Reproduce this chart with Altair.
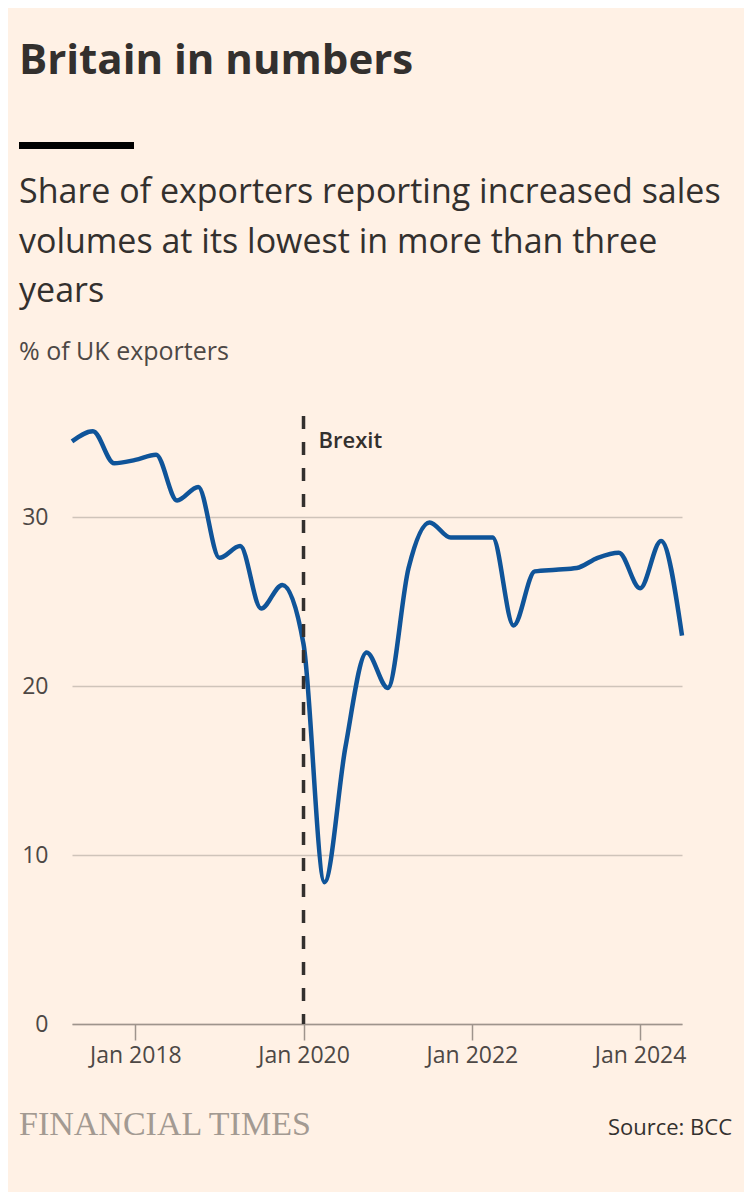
import pandas as pd
import altair as alt

# quarterly readings, % of UK exporters reporting increased sales volumes
quarters = [
    "2017/04/01", "2017/07/01", "2017/10/01",
    "2018/01/01", "2018/04/01", "2018/07/01", "2018/10/01",
    "2019/01/01", "2019/04/01", "2019/07/01", "2019/10/01",
    "2020/01/01", "2020/04/01", "2020/07/01", "2020/10/01",
    "2021/01/01", "2021/04/01", "2021/07/01", "2021/10/01",
    "2022/01/01", "2022/04/01", "2022/07/01", "2022/10/01",
    "2023/01/01", "2023/04/01", "2023/07/01", "2023/10/01",
    "2024/01/01", "2024/04/01", "2024/07/01",
]
share = [
    34.5, 35.1, 33.2,
    33.4, 33.7, 31.0, 31.8,
    27.6, 28.3, 24.6, 26.0,
    22.5, 8.4, 16.4, 22.0,
    19.9, 27.0, 29.7, 28.8,
    28.8, 28.8, 23.6, 26.8,
    26.9, 27.0, 27.6, 27.9,
    25.8, 28.6, 23.0,
]
brexit_date = ["2020/01/01"]
brexit_label = ["Brexit"]
y_ticks = [0, 10, 20, 30]
x_ticks = [alt.DateTime(year=y, month=1, date=1) for y in (2018, 2020, 2022, 2024)]

title_text = "Britain in numbers"
subtitle_lines = [
    "Share of exporters reporting increased sales",
    "volumes at its lowest in more than three",
    "years",
]
unit_text = "% of UK exporters"
source_text = "Source: BCC"
brand_text = "FINANCIAL TIMES"

df = pd.DataFrame({"date": quarters, "share": share})
brexit_df = pd.DataFrame({"date": brexit_date, "label": brexit_label})

SANS = "Open Sans"
INK = "#33302E"
BG = "#FFF1E5"
W, H = 610, 608

x_enc = alt.X(
    "date:T",
    scale=alt.Scale(domain=[quarters[0], quarters[-1]]),
    axis=alt.Axis(
        values=x_ticks, format="%b %Y", title=None, grid=False,
        tickSize=16, tickColor="#9e948c", tickWidth=1.5,
        domainColor="#9e948c", domainWidth=1.5,
        labelFontSize=23, labelColor="#4d4845", labelFont=SANS,
        labelPadding=4,
    ),
)
y_enc = alt.Y(
    "share:Q",
    scale=alt.Scale(domain=[0, 36]),
    axis=alt.Axis(
        values=y_ticks, title=None, domain=False, ticks=False,
        gridColor="#cfc4ba", gridWidth=1.5,
        labelFontSize=23, labelColor="#4d4845", labelFont=SANS,
        labelPadding=24,
    ),
)

line = alt.Chart(df).mark_line(
    color="#0F5499", strokeWidth=4.5, interpolate="monotone"
).encode(x=x_enc, y=y_enc)

brexit_rule = alt.Chart(brexit_df).mark_rule(
    color=INK, strokeWidth=3.5, strokeDash=[13, 13]
).encode(x="date:T", y=alt.value(0), y2=alt.value(H))

brexit_text = alt.Chart(brexit_df).mark_text(
    align="left", baseline="alphabetic", dx=15, fontSize=22,
    fontWeight=600, font=SANS, color=INK
).encode(x="date:T", y=alt.value(32), text="label:N")


def label(text, x, y, size, color=INK, weight="normal", font=SANS, align="left"):
    return alt.Chart(pd.DataFrame({"t": [text]})).mark_text(
        align=align, baseline="alphabetic", fontSize=size, fontWeight=weight,
        font=font, color=color
    ).encode(x=alt.value(x), y=alt.value(y), text="t:N")


# page positions relative to the plot origin (72, 416)
title = label(title_text, -53, 74 - 416, 42, weight="bold")
bar = alt.Chart(pd.DataFrame({"a": [0]})).mark_rule(
    color="#000000", strokeWidth=7
).encode(x=alt.value(-53), x2=alt.value(62), y=alt.value(145.5 - 416))
subs = [label(s, -53, b - 416, 34) for s, b in zip(subtitle_lines, [203, 253, 302])]
unit = label(unit_text, -53, 360 - 416, 25, color="#4d4845")
brand = label(brand_text, -53, 1135 - 416, 34, color="#a39a92", font="Liberation Serif")
source = label(source_text, 732 - 72, 1135 - 416, 22, color=INK, align="right")

chart = alt.layer(
    line, brexit_rule, brexit_text, title, bar, *subs, unit, brand, source
).properties(
    width=W, height=H,
    autosize=alt.AutoSizeParams(type="none"),
    padding={"left": 64, "top": 408, "right": 62, "bottom": 168},
    background=BG,
).configure_view(stroke=None)

chart.save("out.html", embed_options={"renderer": "svg", "actions": False})
